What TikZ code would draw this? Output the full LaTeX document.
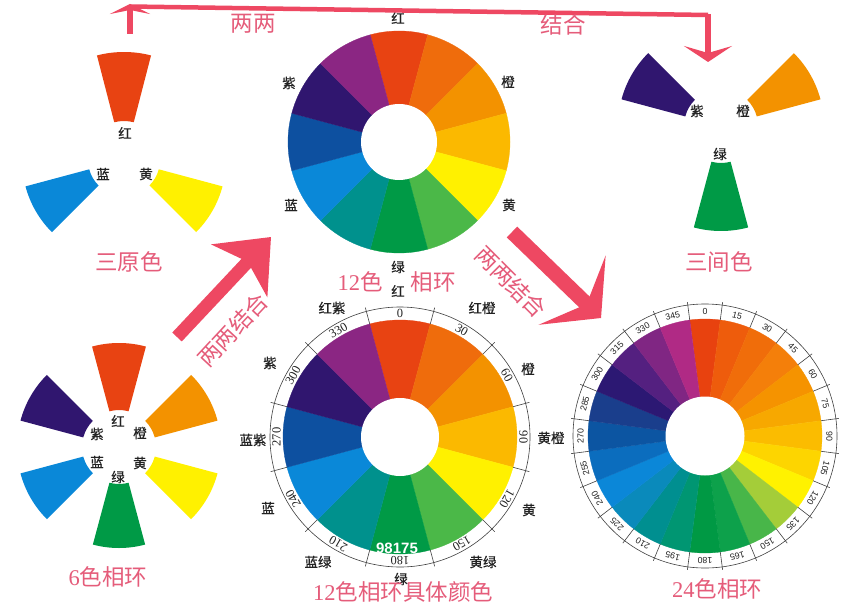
\documentclass[tikz,border=0pt]{standalone}
\usepackage{fontspec}
\setmainfont{Liberation Serif}
\setsansfont{Liberation Sans}
\newfontfamily\cjk{Noto Sans CJK SC}
\newfontfamily\cjkb{Noto Sans CJK SC}[FakeBold=0.6]
\usetikzlibrary{arrows.meta}

\definecolor{arrowred}{HTML}{EE4862}
\definecolor{titlepink}{HTML}{E55C7A}
\definecolor{labelgray}{HTML}{222222}
\definecolor{cR}{HTML}{E84312}
\definecolor{cRO}{HTML}{EF6C0C}
\definecolor{cO}{HTML}{F39200}
\definecolor{cYO}{HTML}{FBB900}
\definecolor{cY}{HTML}{FFF100}
\definecolor{cYG}{HTML}{4BB848}
\definecolor{cG}{HTML}{009A46}
\definecolor{cBG}{HTML}{00918D}
\definecolor{cB}{HTML}{0A88D8}
\definecolor{cBV}{HTML}{0D50A0}
\definecolor{cV}{HTML}{30166F}
\definecolor{cRV}{HTML}{8B2683}
\definecolor{d00}{HTML}{E8420F}
\definecolor{d01}{HTML}{EE5C0C}
\definecolor{d02}{HTML}{F06D0A}
\definecolor{d03}{HTML}{F47F0A}
\definecolor{d04}{HTML}{F59300}
\definecolor{d05}{HTML}{F7A800}
\definecolor{d06}{HTML}{FBBC00}
\definecolor{d07}{HTML}{FDD500}
\definecolor{d08}{HTML}{FFF200}
\definecolor{d09}{HTML}{A4CD39}
\definecolor{d10}{HTML}{48B649}
\definecolor{d11}{HTML}{0DA14B}
\definecolor{d12}{HTML}{009944}
\definecolor{d13}{HTML}{009672}
\definecolor{d14}{HTML}{008F90}
\definecolor{d15}{HTML}{0A8ABB}
\definecolor{d16}{HTML}{0B87D8}
\definecolor{d17}{HTML}{0B6DBE}
\definecolor{d18}{HTML}{0C55A2}
\definecolor{d19}{HTML}{1A3E8C}
\definecolor{d20}{HTML}{2C1873}
\definecolor{d21}{HTML}{542080}
\definecolor{d22}{HTML}{802683}
\definecolor{d23}{HTML}{B02A85}

\tikzset{
  lbl/.style={font=\cjkb\fontsize{13.5}{14}\selectfont, text=labelgray, inner sep=0pt},
  ttl/.style={font=\cjk\fontsize{22.5}{23}\selectfont, text=titlepink, inner sep=0pt},
  numtw/.style={font=\fontsize{12.5}{13}\selectfont, text=labelgray, inner sep=0pt},
  numtf/.style={font=\sffamily\fontsize{8.8}{9}\selectfont, text=labelgray, inner sep=0pt},
  bandline/.style={draw=black!75, line width=0.6pt},
  redline/.style={draw=arrowred, line cap=butt},
}

% annular wedge inside a shifted scope: angle, rin, rout, half angle, colour
\newcommand\fanwedge[5]{%
  \fill[#5] (#1-#4:#2) arc[start angle=#1-#4, end angle=#1+#4, radius=#2]
    -- (#1+#4:#3) arc[start angle=#1+#4, end angle=#1-#4, radius=#3] -- cycle;}
% pie sector: start, end, radius, colour
\newcommand\pieseg[4]{%
  \fill[#4, draw=#4, line width=0.3pt] (0,0) -- (#1:#3) arc[start angle=#1, end angle=#2, radius=#3] -- cycle;}

\begin{document}
\begin{tikzpicture}[x=1pt,y=-1pt]
\useasboundingbox (0,0) rectangle (858,604);
\fill[white] (0,0) rectangle (858,604);

% ---------- 三原色 ----------
\begin{scope}[shift={(124,160)}]
  \fanwedge{-90}{39}{108}{14.5}{cR}
  \fanwedge{150}{36}{102}{15}{cB}
  \fanwedge{30}{36}{102}{15}{cY}
\end{scope}
\node[lbl] (p-r) at (125,133) {红};
\node[lbl] (p-b) at (103,174) {蓝};
\node[lbl] (p-y) at (146,174) {黄};
\node[ttl] (t-prim) at (129,262) {三原色};

% ---------- 三间色 ----------
\begin{scope}[shift={(721,126)}]
  \fanwedge{210}{37}{103}{15}{cV}
  \fanwedge{-30}{37}{103}{15}{cO}
  \fanwedge{90}{37}{105}{15}{cG}
\end{scope}
\node[lbl] (s-v) at (697,111) {紫};
\node[lbl] (s-o) at (743,111) {橙};
\node[lbl] (s-g) at (720,154) {绿};
\node[ttl] (t-sec) at (719,262) {三间色};

% ---------- 6色相环 ----------
\begin{scope}[shift={(119,447)}]
  \fanwedge{-90}{37}{104}{15}{cR}
  \fanwedge{-30}{37}{102}{15}{cO}
  \fanwedge{30}{37}{102}{15}{cY}
  \fanwedge{90}{37}{101}{15}{cG}
  \fanwedge{150}{37}{102}{15}{cB}
  \fanwedge{210}{37}{102}{15}{cV}
\end{scope}
\node[lbl] (h-r) at (118,421) {红};
\node[lbl] (h-o) at (140,433) {橙};
\node[lbl] (h-y) at (140,463) {黄};
\node[lbl] (h-g) at (118,477) {绿};
\node[lbl] (h-b) at (97,462) {蓝};
\node[lbl] (h-v) at (97,434) {紫};
\node[ttl] (t-six) at (108,577) {{\rmfamily 6}色相环};

% ---------- 12色 相环 (top) ----------
\begin{scope}[shift={(399,142)}]
  \foreach \c [count=\i from 0] in {cR,cRO,cO,cYO,cY,cYG,cG,cBG,cB,cBV,cV,cRV} {
    \pgfmathsetmacro\aa{-105+30*\i}
    \pgfmathsetmacro\ab{-75+30*\i}
    \pieseg{\aa}{\ab}{111}{\c}
  }
  \fill[white] (0,0) circle[radius=38];
\end{scope}
\node[lbl] (u-r) at (398,18) {红};
\node[lbl] (u-o) at (508,82) {橙};
\node[lbl] (u-y) at (509,205) {黄};
\node[lbl] (u-g) at (398,267) {绿};
\node[lbl] (u-b) at (291,205) {蓝};
\node[lbl] (u-v) at (289,83) {紫};
\node[ttl] (t-twa) at (360,282) {{\rmfamily 12}色};
\node[ttl] (t-twb) at (433,282) {相环};

% ---------- 12色相环具体颜色 ----------
\begin{scope}[shift={(400,437)}]
  \fill[white] (0,0) circle[radius=130];
  \draw[bandline] (0,0) circle[radius=130];
  \foreach \c [count=\i from 0] in {cR,cRO,cO,cYO,cY,cYG,cG,cBG,cB,cBV,cV,cRV} {
    \pgfmathsetmacro\aa{-105+30*\i}
    \pgfmathsetmacro\ab{-75+30*\i}
    \pieseg{\aa}{\ab}{117}{\c}
  }
  \fill[white] (0,0) circle[radius=39];
  \foreach \t in {15,45,...,345} \draw[bandline] (\t-90:117) -- (\t-90:134);
  \foreach \t in {0,30,...,330} \node[numtw, rotate=-\t] (m-\t) at (\t-90:123.5) {\t};
\end{scope}
\node[lbl] (w-0) at (398,291) {红};
\node[lbl] (w-30) at (482,308) {红橙};
\node[lbl] (w-60) at (528,369) {橙};
\node[lbl] (w-90) at (551,438) {黄橙};
\node[lbl] (w-120) at (529,510) {黄};
\node[lbl] (w-150) at (483,562) {黄绿};
\node[lbl] (w-180) at (401,579) {绿};
\node[lbl] (w-210) at (318,562) {蓝绿};
\node[lbl] (w-240) at (268,508) {蓝};
\node[lbl] (w-270) at (253,440) {蓝紫};
\node[lbl] (w-300) at (270,363) {紫};
\node[lbl] (w-330) at (332,308) {红紫};
\node[font=\sffamily\bfseries\fontsize{15}{15}\selectfont, text=white, inner sep=0pt] (wm) at (397,548) {98175};
\node[ttl] (t-twd) at (403,592) {{\rmfamily 12}色相环具体颜色};

% ---------- 24色相环 ----------
\begin{scope}[shift={(705,436)}]
  \fill[white] (0,0) circle[radius=132];
  \draw[bandline] (0,0) circle[radius=132];
  \foreach \c [count=\i from 0] in {d00,d01,d02,d03,d04,d05,d06,d07,d08,d09,d10,d11,d12,d13,d14,d15,d16,d17,d18,d19,d20,d21,d22,d23} {
    \pgfmathsetmacro\aa{-97.5+15*\i}
    \pgfmathsetmacro\ab{-82.5+15*\i}
    \pieseg{\aa}{\ab}{117}{\c}
  }
  \fill[white] (0,0) circle[radius=39.5];
  \foreach \t in {7.5,22.5,...,352.5} \draw[bandline] (\t-90:117) -- (\t-90:135);
  \foreach \t in {0,15,...,345} \node[numtf, rotate=-\t] (f-\t) at (\t-90:124.5) {\t};
\end{scope}
\node[ttl] (t-tf) at (717,589) {{\rmfamily 24}色相环};

% ---------- top connector ----------
\coordinate (tl0) at (130,34);
\coordinate (tl1) at (130,4);
\coordinate (th0) at (130,6.5);
\coordinate (th1) at (708,15);
\coordinate (tr0) at (708,14);
\coordinate (tr1) at (708,62);
\draw[redline, line width=6pt, -{Stealth[length=10pt,width=40pt,inset=4pt]}] (tl0) -- (tl1);
\draw[redline, line width=4.5pt] (th0) -- (th1);
\draw[redline, line width=6pt, -{Stealth[length=16pt,width=48pt,inset=7pt]}] (tr0) -- (tr1);
\node[ttl] (t-la) at (253,24) {两两};
\node[ttl] (t-lb) at (563,25) {结合};

% ---------- big arrows ----------
\coordinate (a1s) at (177,337);
\coordinate (a1t) at (271,237);
\draw[redline, line width=13pt, -{Stealth[length=46pt,width=76pt,inset=12pt]}] (a1s) -- (a1t);
\node[ttl, rotate=47] (t-a1) at (233,330) {两两结合};

\coordinate (a2s) at (512,232);
\coordinate (a2t) at (601,318);
\draw[redline, line width=15pt, -{Stealth[length=40pt,width=96pt,inset=20pt]}] (a2s) -- (a2t);
\node[ttl, rotate=-45] (t-a2) at (511,282) {两两结合};
\end{tikzpicture}
\end{document}
